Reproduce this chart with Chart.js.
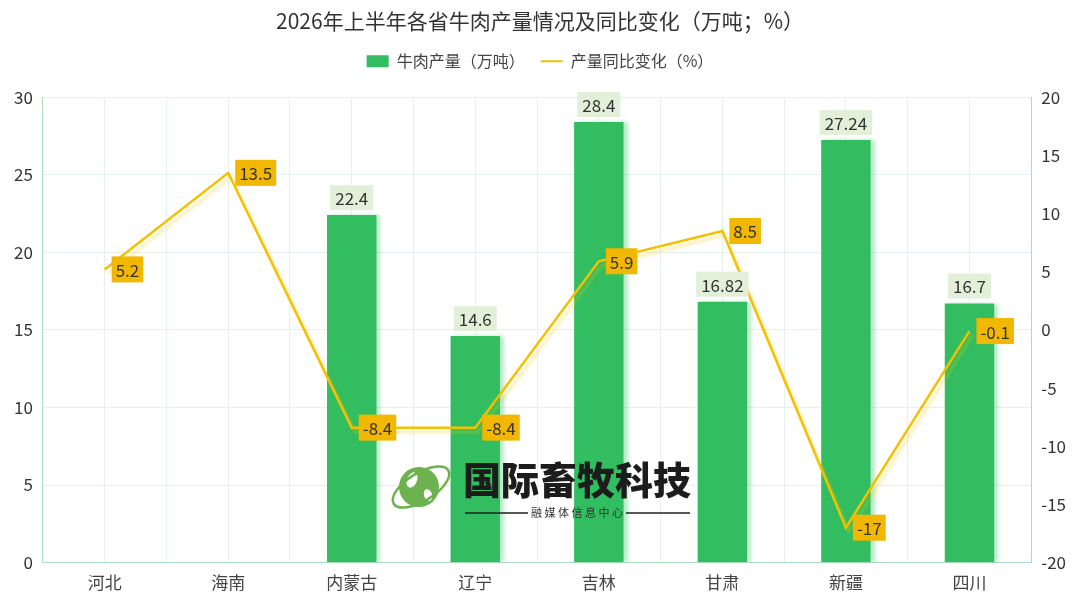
<!DOCTYPE html>
<html><head><meta charset="utf-8">
<script src="https://cdn.jsdelivr.net/npm/chart.js@4"></script>
<style>html,body{margin:0;padding:0;background:#fff}#wrap{width:1080px;height:608px;position:relative}</style>
</head><body><div id="wrap"><canvas id="c"></canvas></div>
<script>
const categories = ['河北','海南','内蒙古','辽宁','吉林','甘肃','新疆','四川'];
const beefOutput = [null, null, 22.4, 14.6, 28.4, 16.82, 27.24, 16.7];
const yoyChange = [5.2, 13.5, -8.4, -8.4, 5.9, 8.5, -17, -0.1];
const seriesNames = ['牛肉产量（万吨）', '产量同比变化（%）'];
const titleText = '2026年上半年各省牛肉产量情况及同比变化（万吨；%）';

const FONT = '"Noto Sans CJK SC", "Noto Sans", sans-serif';
const GREEN = '#31bd60';
const GOLD = '#f5c000';

const shadowPlugin = {
  id: 'shadows',
  beforeDatasetDraw(chart, args) {
    const ctx = chart.ctx;
    ctx.save();
    if (args.index === 0) {
      ctx.shadowColor = 'rgba(49,189,96,0.35)';
      ctx.shadowOffsetX = 4; ctx.shadowOffsetY = 0; ctx.shadowBlur = 4;
    } else {
      ctx.shadowColor = 'rgba(245,200,0,0.35)';
      ctx.shadowOffsetX = 3; ctx.shadowOffsetY = 4; ctx.shadowBlur = 3;
    }
  },
  afterDatasetDraw(chart) { chart.ctx.restore(); }
};

const labelPlugin = {
  id: 'valueLabels',
  afterDatasetsDraw(chart) {
    const ctx = chart.ctx;
    ctx.save();
    ctx.font = '17px ' + FONT;
    ctx.textBaseline = 'middle';
    ctx.textAlign = 'center';
    const bm = chart.getDatasetMeta(0);
    bm.data.forEach((el, i) => {
      const v = beefOutput[i];
      if (v == null) return;
      const t = String(v);
      const w = ctx.measureText(t).width + 10, h = 25;
      const cy = el.y - 5 - h / 2;
      ctx.fillStyle = '#e2f0da';
      ctx.fillRect(el.x - w / 2, cy - h / 2, w, h);
      ctx.fillStyle = '#333';
      ctx.fillText(t, el.x, cy + 1);
    });
    const lm = chart.getDatasetMeta(1);
    ctx.textAlign = 'left';
    lm.data.forEach((el, i) => {
      const t = String(yoyChange[i]);
      const w = ctx.measureText(t).width + 8, h = 26;
      const x0 = el.x + 7;
      ctx.fillStyle = '#f2b700';
      ctx.fillRect(x0, el.y - h / 2, w, h);
      ctx.fillStyle = '#333';
      ctx.fillText(t, x0 + 4, el.y + 1);
    });
    ctx.restore();
  },
  afterDraw(chart) {
    const ctx = chart.ctx;
    ctx.save();
    // watermark globe
    ctx.fillStyle = '#6cb24e';
    ctx.beginPath(); ctx.arc(419, 487, 20, 0, Math.PI * 2); ctx.fill();
    ctx.fillStyle = '#ffffff';
    ctx.beginPath(); ctx.ellipse(412, 480, 5, 8, 0.4, 0, Math.PI * 2); ctx.fill();
    ctx.beginPath(); ctx.ellipse(428, 495, 4, 6, -0.3, 0, Math.PI * 2); ctx.fill();
    ctx.strokeStyle = '#6cb24e'; ctx.lineWidth = 2.5;
    ctx.beginPath(); ctx.ellipse(421, 487, 32, 14, -0.55, 0, Math.PI * 2); ctx.stroke();
    // watermark text
    ctx.fillStyle = '#1c1c1c';
    ctx.font = '900 38px ' + FONT;
    ctx.textAlign = 'center'; ctx.textBaseline = 'middle';
    ctx.fillText('国际畜牧科技', 577, 480);
    ctx.font = '11px ' + FONT;
    ctx.fillStyle = '#333';
    ctx.fillText('融 媒 体 信 息 中 心', 577, 513);
    ctx.strokeStyle = '#222'; ctx.lineWidth = 1.5;
    ctx.beginPath(); ctx.moveTo(465, 513); ctx.lineTo(528, 513);
    ctx.moveTo(626, 513); ctx.lineTo(690, 513); ctx.stroke();
    ctx.restore();
  }
};

new Chart(document.getElementById('c'), {
  data: {
    labels: categories,
    datasets: [
      { type: 'bar', label: seriesNames[0], data: beefOutput, backgroundColor: GREEN, yAxisID: 'y',
        barPercentage: 0.8, categoryPercentage: 0.5, order: 1 },
      { type: 'line', label: seriesNames[1], data: yoyChange, borderColor: GOLD, backgroundColor: GOLD,
        borderWidth: 2.5, pointRadius: 0, tension: 0, yAxisID: 'y1', order: 0 }
    ]
  },
  options: {
    responsive: true, maintainAspectRatio: false, animation: false,
    devicePixelRatio: 1,
    layout: { padding: { left: 4, right: 4, top: 4, bottom: 13 } },
    plugins: {
      tooltip: { enabled: false },
      title: { display: true, text: titleText, color: '#333', font: { family: FONT, size: 21, weight: 'normal' },
        padding: { top: 4, bottom: 4 } },
      legend: { display: true, position: 'top',
        labels: { color: '#444', font: { family: FONT, size: 16 }, usePointStyle: true, pointStyleWidth: 22,
          boxHeight: 12, padding: 16,
          sort: (a, b) => a.datasetIndex - b.datasetIndex,
          generateLabels(chart) {
            return chart.data.datasets.map((d, i) => ({
              text: d.label, datasetIndex: i,
              fillStyle: i === 0 ? GREEN : GOLD, strokeStyle: i === 0 ? GREEN : GOLD,
              lineWidth: i === 0 ? 0 : 2, pointStyle: i === 0 ? 'rect' : 'line', hidden: false,
              fontColor: '#444'
            }));
          } },
        padding: 0 }
    },
    scales: {
      x: { type: 'category', offset: true,
        grid: { display: false },
        border: { display: true, color: '#a9dcc0', width: 1 },
        ticks: { color: '#444', font: { family: FONT, size: 17 }, padding: 2 } },
      x2: { type: 'linear', position: 'top', min: 0, max: 8, display: true,
        ticks: { display: false, stepSize: 0.5 },
        grid: { color: '#e3f3ec', drawTicks: false },
        border: { display: false } },
      y: { type: 'linear', position: 'left', min: 0, max: 30,
        ticks: { stepSize: 5, color: '#333', font: { family: FONT, size: 17 }, padding: 10 },
        grid: { color: '#e3f3ec', drawTicks: false },
        border: { display: true, color: '#a9dcc0' } },
      y1: { type: 'linear', position: 'right', min: -20, max: 20,
        ticks: { stepSize: 5, color: '#333', font: { family: FONT, size: 17 }, padding: 10 },
        grid: { display: false, drawTicks: false },
        border: { display: true, color: '#a9dcc0' } }
    }
  },
  plugins: [shadowPlugin, labelPlugin, {
    id: 'topPad',
    beforeInit(chart) {
      const fit = chart.legend.fit;
      chart.legend.fit = function () { fit.bind(chart.legend)(); this.height += 18; };
    }
  }]
});
</script>
</body></html>
